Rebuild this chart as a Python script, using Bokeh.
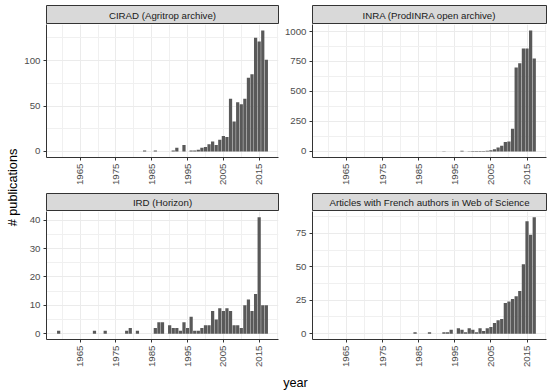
import math
from bokeh.plotting import figure
from bokeh.models import Range1d, FixedTicker, Label
from bokeh.layouts import row, column
from bokeh.embed import file_html
from bokeh.resources import INLINE

FONT = "Liberation Sans"

# ---------------- data ----------------
x_major = [1965, 1975, 1985, 1995, 2005, 2015]
x_minor = [1960, 1970, 1980, 1990, 2000, 2010, 2020]

cirad_title = "CIRAD (Agritrop archive)"
cirad_years = [1983, 1986, 1991, 1992, 1994, 1996, 1997, 1998, 1999, 2000, 2001, 2002, 2003,
               2004, 2005, 2006, 2007, 2008, 2009, 2010, 2011, 2012, 2013, 2014, 2015, 2016, 2017]
cirad_pubs = [1, 1, 1, 4, 7, 1, 1, 2, 4, 5, 8, 11, 7,
              13, 17, 16, 58, 33, 54, 52, 58, 81, 85, 125, 121, 133, 101]
cirad_yticks = [0, 50, 100]
cirad_yminor = [25, 75, 125]

inra_title = "INRA (ProdINRA open archive)"
inra_years = [1992, 1997, 1999, 2000, 2001, 2002, 2003, 2004, 2005, 2006, 2007, 2008, 2009,
              2010, 2011, 2012, 2013, 2014, 2015, 2016, 2017]
inra_pubs = [2, 5, 2, 3, 3, 4, 4, 6, 11, 19, 33, 47, 78,
             83, 189, 700, 736, 858, 858, 1008, 775]
inra_yticks = [0, 250, 500, 750, 1000]
inra_yminor = [125, 375, 625, 875]

ird_title = "IRD (Horizon)"
ird_years = [1959, 1969, 1972, 1978, 1979, 1981, 1986, 1987, 1988, 1990, 1991, 1992, 1993,
             1994, 1995, 1996, 1997, 1998, 1999, 2000, 2001, 2002, 2003, 2004, 2005, 2006,
             2007, 2008, 2009, 2010, 2011, 2012, 2013, 2014, 2015, 2016, 2017]
ird_pubs = [1, 1, 1, 1, 2, 1, 2, 4, 4, 3, 2, 2, 1,
            4, 2, 6, 1, 1, 2, 3, 3, 8, 5, 9, 8, 9,
            8, 3, 3, 2, 10, 12, 8, 14, 41, 10, 10]
ird_yticks = [0, 10, 20, 30, 40]
ird_yminor = [5, 15, 25, 35]

wos_title = "Articles with French authors in Web of Science"
wos_years = [1984, 1988, 1992, 1993, 1994, 1996, 1997, 1998, 1999, 2000, 2001, 2002, 2003,
             2004, 2005, 2006, 2007, 2008, 2009, 2010, 2011, 2012, 2013, 2014, 2015, 2016, 2017]
wos_pubs = [1, 1, 1, 1, 3, 4, 3, 1, 4, 3, 1, 4, 2,
            4, 5, 8, 10, 11, 23, 24, 26, 28, 32, 52, 84, 74, 87]
wos_yticks = [0, 25, 50, 75]
wos_yminor = [12.5, 37.5, 62.5, 87.5]

x_label = "year"
y_label = "# publications"

# ---------------- layout constants ----------------
FRAME_W = 234
X_LO, X_HI = 1955.605, 2020.395
BAR = "#595959"
AXIS = "#333333"
TICKLAB = "#4D4D4D"


def bare(width, height, xr, yr):
    f = figure(width=width, height=height, x_range=Range1d(*xr), y_range=Range1d(*yr),
               output_backend="svg", toolbar_location=None,
               x_axis_location=None, y_axis_location=None,
               min_border=0, outline_line_color=None)
    f.grid.visible = False
    return f


def strip(title, lb, rb, h, tb):
    s = figure(width=lb + FRAME_W + rb, height=h + tb, x_range=Range1d(0, 1), y_range=Range1d(0, 1),
               output_backend="svg", toolbar_location=None,
               x_axis_location=None, y_axis_location=None,
               min_border_left=lb, min_border_right=rb, min_border_top=tb, min_border_bottom=0,
               background_fill_color="#D9D9D9", outline_line_color=AXIS, outline_line_width=1)
    s.grid.visible = False
    s.add_layout(Label(x=0.5, y=0.5, text=title, text_align="center", text_baseline="middle",
                       text_font=FONT, text_font_size="9.7px", text_color="#1A1A1A"))
    return s


def panel(years, pubs, yticks, yminor, lb, rb, fh, bb):
    ymax = max(pubs)
    p = figure(width=lb + FRAME_W + rb, height=fh + bb,
               x_range=Range1d(X_LO, X_HI), y_range=Range1d(-0.05 * ymax, 1.05 * ymax),
               output_backend="svg", toolbar_location=None,
               min_border_left=lb, min_border_right=rb, min_border_top=0, min_border_bottom=bb,
               outline_line_color=None, background_fill_color="white")
    p.vbar(x=years, top=pubs, width=0.9, fill_color=BAR, line_color=None)
    p.xaxis.ticker = FixedTicker(ticks=x_major, minor_ticks=x_minor)
    p.yaxis.ticker = FixedTicker(ticks=yticks, minor_ticks=yminor)
    p.xaxis.major_label_orientation = math.pi / 2
    for ax in (p.xaxis[0], p.yaxis[0]):
        ax.axis_line_color = AXIS
        ax.axis_line_width = 1
        ax.major_tick_line_color = AXIS
        ax.major_tick_out = 3
        ax.major_tick_in = 0
        ax.minor_tick_line_color = None
        ax.major_label_standoff = 2
        ax.major_label_text_font = FONT
        ax.major_label_text_font_size = "9.7px"
        ax.major_label_text_color = TICKLAB
    p.grid.grid_line_color = "#EBEBEB"
    p.grid.grid_line_width = 1
    p.grid.minor_grid_line_color = "#F0F0F0"
    p.grid.minor_grid_line_width = 1
    return p


YL_W = 21
LB_L, RB_L = 23, 2
LB_R, RB_R = 32, 4

left_col = column(
    strip(cirad_title, LB_L, RB_L, 19, 5),
    panel(cirad_years, cirad_pubs, cirad_yticks, cirad_yminor, LB_L, RB_L, 133, 36),
    strip(ird_title, LB_L, RB_L, 18, 0),
    panel(ird_years, ird_pubs, ird_yticks, ird_yminor, LB_L, RB_L, 132, 27),
)
right_col = column(
    strip(inra_title, LB_R, RB_R, 19, 5),
    panel(inra_years, inra_pubs, inra_yticks, inra_yminor, LB_R, RB_R, 133, 36),
    strip(wos_title, LB_R, RB_R, 18, 0),
    panel(wos_years, wos_pubs, wos_yticks, wos_yminor, LB_R, RB_R, 132, 27),
)

GRID_W = (LB_L + FRAME_W + RB_L) + (LB_R + FRAME_W + RB_R)
XL_H = 21
xl = bare(GRID_W, XL_H, (0, GRID_W), (0, XL_H))
xl.add_layout(Label(x=295 - YL_W, y=XL_H - 12, text=x_label, text_align="center",
                    text_baseline="middle", text_font=FONT, text_font_size="12.7px",
                    text_color="black"))

TOTAL_H = 24 + 169 + 18 + 159 + XL_H
yl = bare(YL_W, TOTAL_H, (0, YL_W), (0, TOTAL_H))
yl.add_layout(Label(x=12, y=TOTAL_H - 187, text=y_label, angle=math.pi / 2,
                    text_align="center", text_baseline="middle",
                    text_font=FONT, text_font_size="12.7px", text_color="black"))

page = row(yl, column(row(left_col, right_col), xl))

open("out.html", "w").write(file_html(page, INLINE))
